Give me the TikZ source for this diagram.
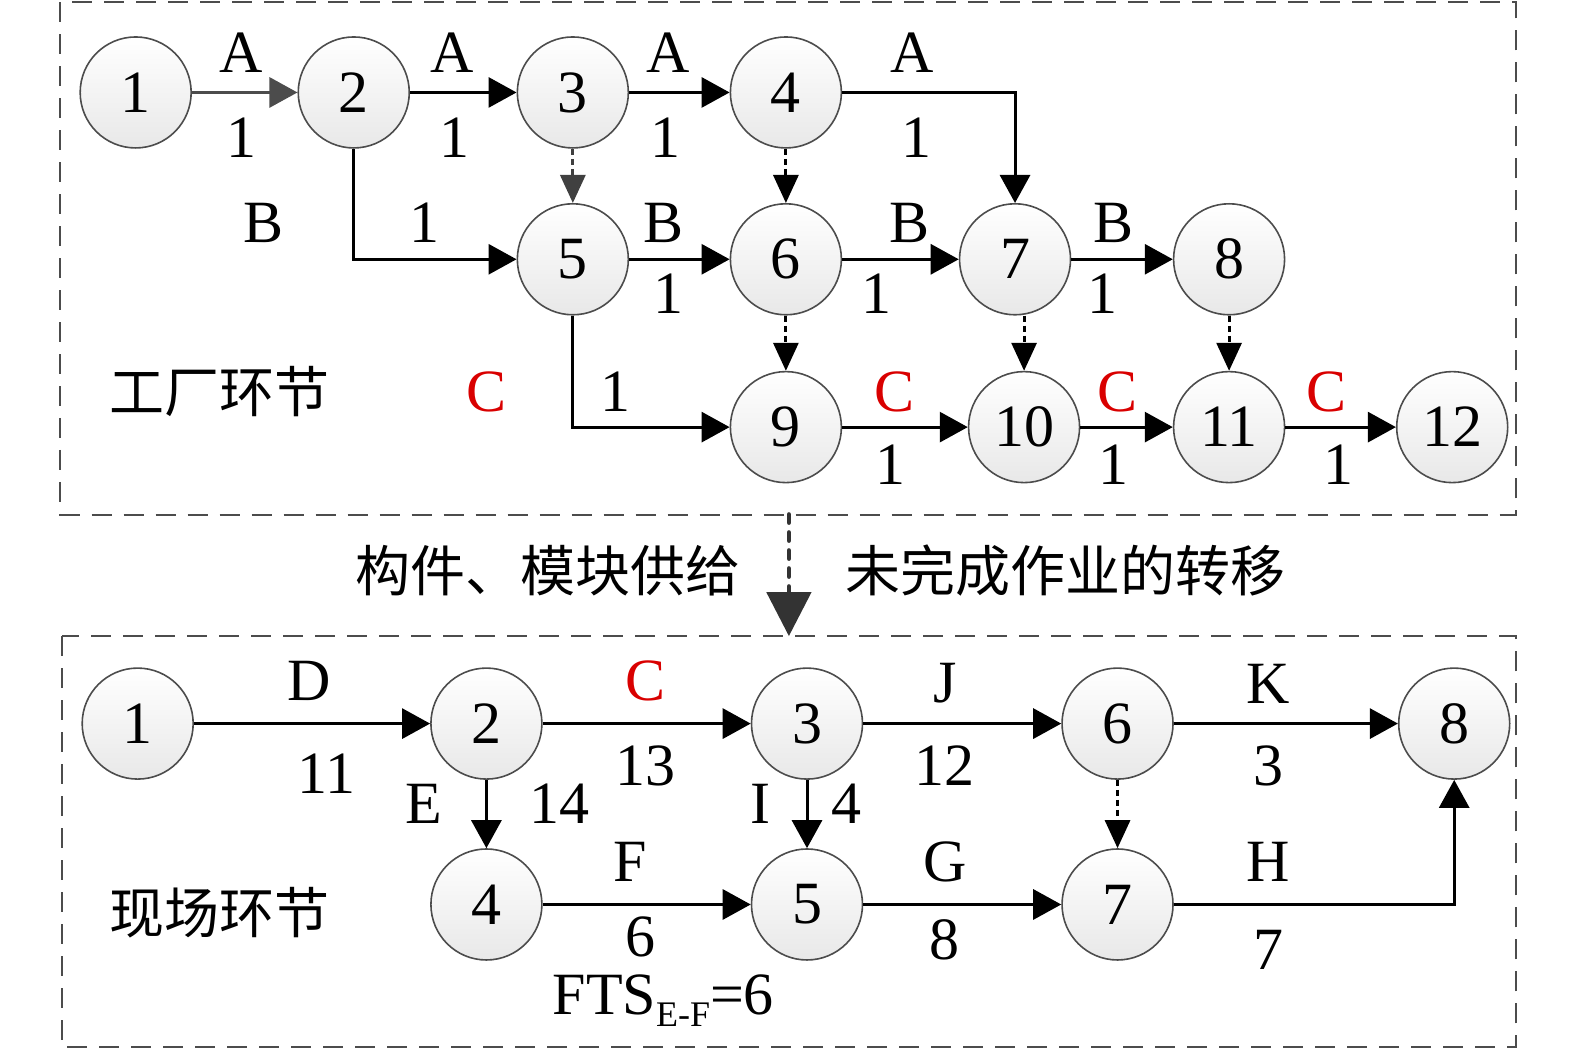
\documentclass[tikz,border=0pt]{standalone}
\usepackage{fontspec}
\setmainfont{Liberation Serif}
\newfontfamily\cjk{Noto Sans CJK SC}
\usetikzlibrary{arrows.meta}
\begin{document}
\begin{tikzpicture}[x=0.5025pt,y=-0.5025pt]
\tikzset{
 ev/.style={circle, draw=black!70, line width=0.8pt, minimum size=55.5pt, inner sep=0pt, top color=white, bottom color=black!9, font=\fontsize{30}{30}\selectfont},
 act/.style={line width=1.5pt, -{Triangle[length=14pt,width=15pt]}},
 dum/.style={line width=1.5pt, dash pattern=on 3pt off 2pt, black, -{Triangle[length=14pt,width=12.5pt]}},
 lbl/.style={font=\fontsize{30}{30}\selectfont, inner sep=0pt},
 rlbl/.style={lbl, text=red!85!black},
 zh/.style={font=\cjk\fontsize{27.5}{27.5}\selectfont, inner sep=0pt},
 frame/.style={draw=black!70, line width=1pt, dash pattern=on 10pt off 6pt},
}
\useasboundingbox (0,0) rectangle (1567.2,1042.8);
% frames
\draw[frame] (60,2) rectangle (1508,512);
\draw[frame] (62,633) rectangle (1508,1042);
% top nodes
\node[ev] (t1) at (135,92) {1};
\node[ev] (t2) at (352,92) {2};
\node[ev] (t3) at (570,92) {3};
\node[ev] (t4) at (782,92) {4};
\node[ev] (t5) at (570,258) {5};
\node[ev] (t6) at (782,258) {6};
\node[ev] (t7) at (1010,258) {7};
\node[ev] (t8) at (1223,258) {8};
\node[ev] (t9) at (782,425) {9};
\node[ev] (t10) at (1019,425) {10};
\node[ev] (t11) at (1223,425) {11};
\node[ev] (t12) at (1445,425) {12};
% top connectors
\draw[act, black!70] (t1) -- (t2);
\draw[act] (t2) -- (t3);
\draw[act] (t3) -- (t4);
\draw[act] (t4.east) -| (t7.north);
\draw[act] (t2.south) |- (t5.west);
\draw[act] (t5) -- (t6);
\draw[act] (t6) -- (t7);
\draw[act] (t7) -- (t8);
\draw[act] (t5.south) |- (t9.west);
\draw[act] (t9) -- (t10);
\draw[act] (t10) -- (t11);
\draw[act] (t11) -- (t12);
\draw[dum, black!75] (t3) -- (t5);
\draw[dum] (t4) -- (t6);
\draw[dum] (t6) -- (t9);
\draw[dum] (t10.north |- t7.south) -- (t10.north);
\draw[dum] (t8) -- (t11);
% top labels
\node[lbl] (la1) at (240,52) {A};
\node[lbl] (ln1) at (240,137) {1};
\node[lbl] (la2) at (450,52) {A};
\node[lbl] (ln2) at (452,137) {1};
\node[lbl] (la3) at (665,52) {A};
\node[lbl] (ln3) at (662,137) {1};
\node[lbl] (la4) at (908,52) {A};
\node[lbl] (ln4) at (912,137) {1};
\node[lbl] (lb1) at (262,222) {B};
\node[lbl] (lm1) at (422,222) {1};
\node[lbl] (lb2) at (660,222) {B};
\node[lbl] (lm2) at (665,292) {1};
\node[lbl] (lb3) at (905,222) {B};
\node[lbl] (lm3) at (872,292) {1};
\node[lbl] (lb4) at (1108,222) {B};
\node[lbl] (lm4) at (1097,292) {1};
\node[rlbl] (lc1) at (484,390) {C};
\node[lbl] (lk1) at (612,390) {1};
\node[rlbl] (lc2) at (890,390) {C};
\node[lbl] (lk2) at (886,462) {1};
\node[rlbl] (lc3) at (1112,390) {C};
\node[lbl] (lk3) at (1108,462) {1};
\node[rlbl] (lc4) at (1320,390) {C};
\node[lbl] (lk4) at (1332,462) {1};
\node[zh] (fac) at (218,390) {工厂环节};
% middle
\coordinate (mtop) at (785,512);
\coordinate (mbot) at (785,633);
\draw[line width=2.4pt, black!80, line cap=round, dash pattern=on 4pt off 5pt, -{Triangle[length=22pt,width=22pt]}] (mtop) -- (mbot);
\node[zh] (sup) at (545,568) {构件、模块供给};
\node[zh] (trn) at (1060,568) {未完成作业的转移};
% bottom nodes
\node[ev] (b1) at (137,720) {1};
\node[ev] (b2) at (484,720) {2};
\node[ev] (b3) at (803,720) {3};
\node[ev] (b6) at (1112,720) {6};
\node[ev] (b8) at (1447,720) {8};
\node[ev] (b4) at (484,900) {4};
\node[ev] (b5) at (803,900) {5};
\node[ev] (b7) at (1112,900) {7};
% bottom connectors
\draw[act] (b1) -- (b2);
\draw[act] (b2) -- (b3);
\draw[act] (b3) -- (b6);
\draw[act] (b6) -- (b8);
\draw[act] (b2) -- (b4);
\draw[act] (b3) -- (b5);
\draw[act] (b4) -- (b5);
\draw[act] (b5) -- (b7);
\draw[act] (b7.east) -| (b8.south);
\draw[dum] (b6) -- (b7);
% bottom labels
\node[lbl] (ld) at (308,678) {D};
\node[lbl] (ld2) at (325,770) {11};
\node[rlbl] (lc) at (642,678) {C};
\node[lbl] (lc5) at (642,762) {13};
\node[lbl] (lj) at (940,680) {J};
\node[lbl] (lj2) at (940,762) {12};
\node[lbl] (lkk) at (1262,680) {K};
\node[lbl] (lkk2) at (1262,762) {3};
\node[lbl] (le) at (422,800) {E};
\node[lbl] (le2) at (557,800) {14};
\node[lbl] (li) at (757,800) {I};
\node[lbl] (li2) at (842,800) {4};
\node[lbl] (lf) at (627,858) {F};
\node[lbl] (lf2) at (637,932) {6};
\node[lbl] (lg) at (940,858) {G};
\node[lbl] (lg2) at (940,935) {8};
\node[lbl] (lh) at (1262,858) {H};
\node[lbl] (lh2) at (1262,945) {7};
\node[lbl] (fts) at (660,996) {FTS\raisebox{-0.2em}{\fontsize{18}{18}\selectfont E-F}=6};
\node[zh] (site) at (218,908) {现场环节};
\end{tikzpicture}
\end{document}
